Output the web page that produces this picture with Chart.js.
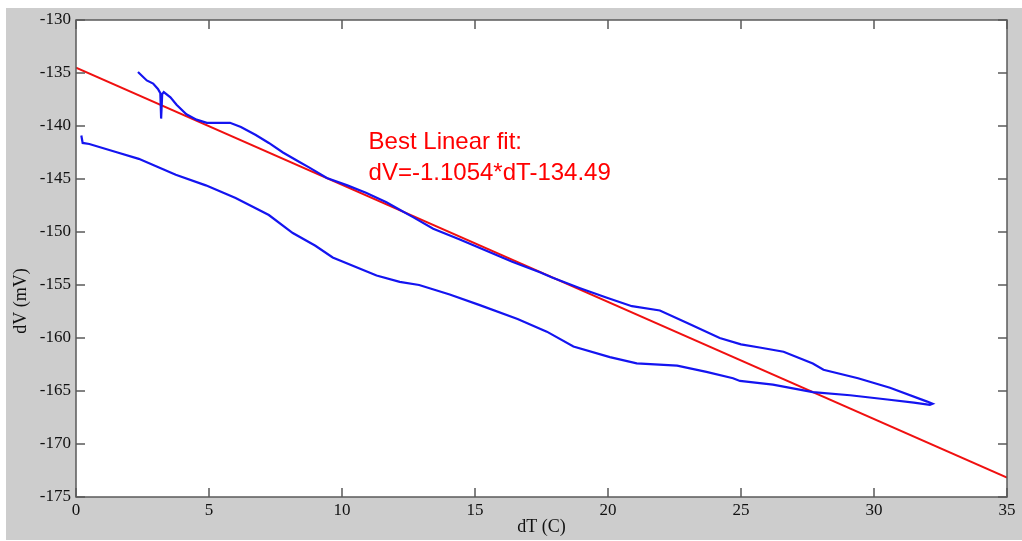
<!DOCTYPE html>
<html>
<head>
<meta charset="utf-8">
<script src="https://cdn.jsdelivr.net/npm/chart.js"></script>
<style>
  html, body { margin: 0; padding: 0; background: #fff; }
  canvas { display: block; }
</style>
</head>
<body>
<canvas id="chart" width="1022" height="541"></canvas>
<script>
// hysteresis loop: upper branch going right, then lower branch back
const loopX = [2.33, 2.66, 2.9, 3.08, 3.17, 3.2, 3.24, 3.3, 3.55, 3.78, 4.15, 4.53, 4.92, 5.3, 5.79, 6.2, 6.76, 7.25, 7.78, 8.4, 8.76, 9.43, 10.2, 10.9, 11.67, 12.17, 12.67, 13.43, 14.43, 15.45, 16.4, 17.44, 17.9, 18.95, 19.96, 20.9, 21.95, 23.0, 24.2, 25.0, 25.7, 26.6, 27.7, 28.1, 29.4, 30.6, 32.0, 32.2,
  32.1, 31.5, 30.5, 29.1, 27.7, 26.2, 24.96, 24.7, 23.7, 22.6, 21.08, 20.07, 18.7, 17.7, 16.6, 15.18, 14.05, 12.9, 12.17, 11.3, 9.65, 9.0, 8.15, 7.25, 6.0, 4.88, 3.75, 2.36, 1.5, 0.5, 0.25, 0.2];
const loopY = [-134.9, -135.7, -136.0, -136.5, -136.9, -139.3, -137.0, -136.8, -137.3, -138.0, -138.9, -139.4, -139.7, -139.7, -139.7, -140.1, -140.85, -141.6, -142.5, -143.4, -143.9, -144.9, -145.6, -146.3, -147.2, -147.9, -148.6, -149.7, -150.7, -151.8, -152.8, -153.8, -154.3, -155.3, -156.2, -157.0, -157.4, -158.6, -160.0, -160.6, -160.9, -161.3, -162.4, -163.0, -163.8, -164.7, -166.0, -166.2,
  -166.3, -166.1, -165.8, -165.4, -165.1, -164.4, -164.05, -163.8, -163.2, -162.6, -162.4, -161.8, -160.8, -159.4, -158.2, -156.9, -155.9, -155.0, -154.7, -154.1, -152.4, -151.3, -150.1, -148.4, -146.8, -145.6, -144.6, -143.1, -142.45, -141.7, -141.6, -140.9];

// fitted line end points
const fitX = [0, 35];
const fitY = [-134.49, -173.18];

const xTicks = [0, 5, 10, 15, 20, 25, 30, 35];
const yTicks = [-175, -170, -165, -160, -155, -150, -145, -140, -135, -130];

const fitText = ['Best Linear fit:', 'dV=-1.1054*dT-134.49'];

const toPoints = (xs, ys) => xs.map((x, i) => ({ x: x, y: ys[i] }));

const serif = '"Liberation Serif", "Times New Roman", serif';

const frame = {
  id: 'frame',
  beforeDraw(chart) {
    const { ctx, chartArea: a } = chart;
    ctx.save();
    ctx.fillStyle = '#fff';
    ctx.fillRect(0, 0, chart.width, chart.height);
    ctx.fillStyle = '#cdcdcd';
    ctx.fillRect(6, 8, chart.width - 6, 532);
    ctx.fillStyle = '#fff';
    ctx.fillRect(a.left, a.top, a.right - a.left, a.bottom - a.top);
    ctx.restore();
  },
  afterDraw(chart) {
    const { ctx, chartArea: a, scales } = chart;
    ctx.save();
    ctx.strokeStyle = '#5a5a5a';
    ctx.lineWidth = 1.5;
    ctx.strokeRect(a.left, a.top, a.right - a.left, a.bottom - a.top);
    ctx.beginPath();
    const len = 9;
    xTicks.forEach(v => {
      const px = scales.x.getPixelForValue(v);
      ctx.moveTo(px, a.bottom); ctx.lineTo(px, a.bottom - len);
      ctx.moveTo(px, a.top); ctx.lineTo(px, a.top + len);
    });
    yTicks.forEach(v => {
      const py = scales.y.getPixelForValue(v);
      ctx.moveTo(a.left, py); ctx.lineTo(a.left + len, py);
      ctx.moveTo(a.right, py); ctx.lineTo(a.right - len, py);
    });
    ctx.stroke();

    // axis titles
    ctx.fillStyle = '#111';
    ctx.font = '18px ' + serif;
    ctx.textAlign = 'center';
    ctx.textBaseline = 'middle';
    ctx.fillText('dT (C)', (a.left + a.right) / 2, 527);
    ctx.translate(21, 301);
    ctx.rotate(-Math.PI / 2);
    ctx.fillText('dV (mV)', 0, 0);
    ctx.restore();

    // fit annotation
    ctx.save();
    ctx.fillStyle = '#ff0000';
    ctx.font = '24px "Liberation Sans", Arial, sans-serif';
    ctx.textAlign = 'left';
    ctx.textBaseline = 'alphabetic';
    const tx = scales.x.getPixelForValue(11.0);
    const ty = scales.y.getPixelForValue(-142.2);
    ctx.fillText(fitText[0], tx, ty);
    ctx.fillText(fitText[1], tx, ty + 31);
    ctx.restore();
  }
};

new Chart('chart', {
  type: 'scatter',
  data: {
    datasets: [
      {
        label: 'data',
        data: toPoints(loopX, loopY),
        showLine: true,
        borderColor: '#1414f0',
        borderWidth: 2.2,
        pointRadius: 0,
        tension: 0
      },
      {
        label: 'fit',
        data: toPoints(fitX, fitY),
        showLine: true,
        borderColor: '#f01010',
        borderWidth: 2,
        pointRadius: 0
      }
    ]
  },
  options: {
    responsive: false,
    animation: false,
    layout: { padding: { left: 0, top: 20, right: 15, bottom: 0 } },
    plugins: {
      legend: { display: false },
      tooltip: { enabled: false }
    },
    scales: {
      x: {
        type: 'linear',
        min: 0,
        max: 35,
        afterBuildTicks: s => { s.ticks = xTicks.map(v => ({ value: v })); },
        afterFit: s => { s.height = 44; },
        grid: { display: false, drawTicks: false },
        border: { display: false },
        ticks: { color: '#111', padding: 3, font: { family: serif, size: 17 } }
      },
      y: {
        type: 'linear',
        min: -175,
        max: -130,
        afterBuildTicks: s => { s.ticks = yTicks.map(v => ({ value: v })); },
        afterFit: s => { s.width = 76; },
        grid: { display: false, drawTicks: false },
        border: { display: false },
        ticks: { color: '#111', padding: 5, font: { family: serif, size: 17 } }
      }
    }
  },
  plugins: [frame]
});
</script>
</body>
</html>
